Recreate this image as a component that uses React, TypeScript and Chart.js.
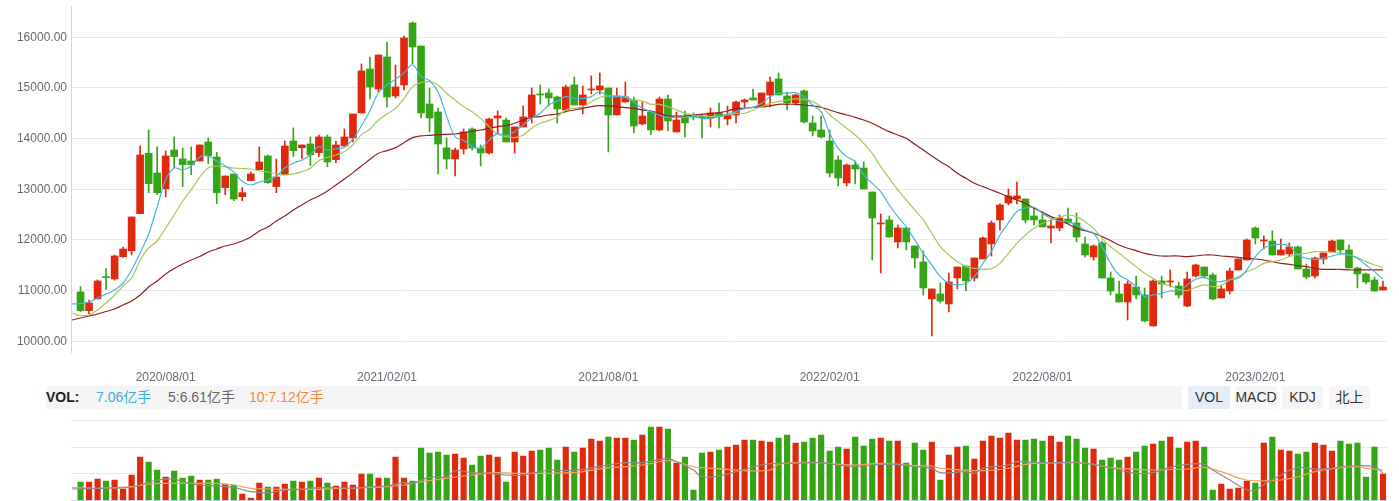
import React, { useEffect, useRef } from "react";
import { Chart, registerables } from "chart.js";

Chart.register(...registerables);

// ---- weekly candles (index 0 .. 153) ----
const OPEN = [
  10974, 10605, 10842, 11270, 11230, 11671, 11789, 12520, 13711, 13322, 13013, 13776, 13599, 13559, 13559, 13934, 13638, 13033, 13303, 12855, 13171, 13388, 13658, 13053, 13290,
  13954, 13822, 13895, 13724, 14033, 13586, 13855, 14013, 14507, 15375, 14980, 15612, 14842, 15059, 16283, 15829, 14684, 14526, 13816, 13599, 13796, 14191, 13816, 13717, 14408, 14368,
  13934, 14230, 14428, 14875, 14901, 14822, 14566, 15059, 14664, 14961, 14961, 15000, 14467, 14724, 14763, 14289, 14526, 14171, 14783, 14132, 14428, 14467, 14447, 14408, 14507, 14388,
  14467, 14724, 14803, 14625, 14862, 15178, 14842, 14704, 14941, 14309, 14171, 13954, 13579, 13125, 13480, 13421, 12947, 12316, 12395, 11961, 12237, 11882, 11566, 10836, 10934, 10737,
  11250, 11487, 11250, 11625, 11921, 12395, 12730, 12809, 12809, 12474, 12395, 12237, 12237, 12414, 12336, 11921, 11664, 11941, 11250, 10934, 10776, 11072, 10914, 10303, 11191, 11171,
  11092, 10697, 11289, 11467, 11309, 10855, 10993, 11408, 11605, 12237, 11980, 11980, 11704, 11724, 11862, 11428, 11289, 11625, 11763, 12000, 11803, 11447, 11329, 11211, 11013,
];
const HIGH = [
  11079, 10816, 11211, 11434, 11704, 11862, 12454, 13855, 14171, 13836, 13757, 14033, 13816, 13836, 13875, 14013, 13730, 13263, 13303, 13033, 13342, 13836, 13678, 13599, 13954,
  14211, 13875, 14033, 14072, 14072, 13954, 14191, 14487, 15474, 15612, 15651, 15908, 15454, 16026, 16303, 15829, 15000, 14605, 14013, 13816, 14191, 14211, 13875, 14408, 14546, 14408,
  14230, 14645, 15000, 15059, 14980, 14842, 15059, 15217, 15040, 15237, 15296, 15000, 15000, 15118, 14822, 14724, 14546, 14822, 14862, 14526, 14546, 14507, 14487, 14605, 14704, 14645,
  14743, 14783, 14980, 14901, 15217, 15296, 14921, 14882, 14961, 14447, 14447, 14171, 13658, 13500, 13559, 13540, 12947, 12513, 12474, 12296, 12237, 11882, 11783, 11033, 11151, 11349,
  11467, 11487, 11645, 12059, 12375, 12711, 13007, 13145, 12809, 12632, 12553, 12395, 12493, 12632, 12533, 12059, 11901, 11980, 11368, 11191, 11191, 11289, 11053, 11211, 11289, 11408,
  11171, 11368, 11526, 11467, 11349, 11112, 11447, 11625, 12020, 12257, 12079, 12178, 12020, 11941, 11882, 11526, 11664, 11743, 12000, 12000, 11901, 11467, 11349, 11270, 11191,
];
const LOW = [
  10586, 10539, 10829, 11026, 11210, 11658, 11704, 12520, 12934, 12895, 12849, 13428, 13053, 13290, 13559, 13507, 12717, 12895, 12776, 12776, 13171, 13388, 13118, 12934, 13290,
  13645, 13605, 13467, 13645, 13447, 13526, 13855, 13934, 14507, 14783, 14921, 14625, 14803, 14961, 15474, 14408, 14132, 13303, 13401, 13263, 13697, 13776, 13461, 13697, 14112, 13934,
  13717, 14230, 14309, 14684, 14645, 14309, 14566, 14664, 14487, 14882, 14882, 13737, 14467, 14724, 14112, 14270, 14072, 14151, 14151, 14132, 14033, 14368, 14013, 14230, 14211, 14270,
  14309, 14586, 14763, 14625, 14625, 14862, 14566, 14664, 14309, 14053, 14013, 13243, 13066, 13066, 13105, 13007, 11605, 11349, 12059, 11842, 11803, 11447, 10914, 10105, 10757, 10579,
  11033, 10993, 11191, 11625, 11684, 12197, 12691, 12711, 12336, 12296, 12257, 11941, 12178, 12336, 11961, 11664, 11605, 11250, 10914, 10776, 10421, 10836, 10382, 10303, 10855, 11072,
  10855, 10678, 11270, 11250, 10816, 10855, 10934, 11408, 11605, 11921, 11822, 11704, 11704, 11684, 11428, 11230, 11250, 11526, 11763, 11724, 11447, 11053, 11132, 10993, 11013,
];
const CLOSE = [
  10605, 10757, 11191, 11257, 11684, 11822, 12454, 13678, 13112, 12934, 13658, 13645, 13487, 13487, 13875, 13665, 12934, 13263, 12809, 12934, 13303, 13540, 13132, 13243, 13855,
  13763, 13875, 13678, 14033, 13540, 13875, 14033, 14487, 15336, 15020, 15651, 14822, 15020, 15987, 15809, 14507, 14408, 13895, 13599, 13776, 14132, 13816, 13717, 14388, 14447, 13934,
  14230, 14428, 14862, 14862, 14803, 14586, 15020, 14664, 14862, 14980, 15040, 14467, 14842, 14822, 14250, 14447, 14171, 14783, 14349, 14368, 14309, 14428, 14408, 14507, 14447, 14467,
  14724, 14763, 14763, 14901, 15118, 14862, 14704, 14862, 14329, 14151, 14033, 13322, 13224, 13480, 13401, 13007, 12434, 12336, 12059, 12237, 11961, 11645, 11053, 11033, 10796, 11171,
  11467, 11191, 11645, 12039, 12336, 12691, 12868, 12868, 12395, 12395, 12257, 12276, 12434, 12336, 12059, 11704, 11882, 11250, 10993, 10776, 11132, 10914, 10401, 11191, 11132, 11191,
  10914, 11230, 11507, 11289, 10836, 11033, 11388, 11625, 12000, 12039, 12000, 11704, 11803, 11862, 11428, 11270, 11645, 11743, 11980, 11803, 11447, 11329, 11171, 10993, 11072,
];

// ---- moving averages, first value belongs to week -1 ----
const MA_FIRST_WEEK = -1;
const MA5 = [
  10736,
  10746, 10776, 10855, 10934, 11013, 11151, 11407, 11743, 12118, 12651, 13190, 13421, 13381, 13460, 13638, 13658, 13559, 13460, 13340, 13160, 13085, 13145, 13184, 13260, 13421, 13520,
  13574, 13683, 13841, 13778, 13800, 13832, 13994, 14254, 14550, 14905, 15063, 15170, 15300, 15458, 15229, 15146, 14921, 14444, 14037, 13962, 13844, 13808, 13966, 14100, 14060,
  14138, 14270, 14401, 14500, 14664, 14740, 14829, 14796, 14796, 14829, 14928, 14829, 14829, 14829, 14720, 14599, 14533, 14467, 14421, 14421, 14421, 14434, 14401, 14401, 14434, 14487,
  14533, 14599, 14618, 14697, 14829, 14895, 14895, 14908, 14829, 14664, 14533, 14105, 13809, 13645, 13546, 13283, 13118, 12954, 12691, 12461, 12263, 12000, 11737, 11507, 11276, 11145,
  11112, 11145, 11276, 11539, 11770, 12099, 12342, 12559, 12632, 12645, 12526, 12428, 12375, 12362, 12296, 12197, 12132, 11868, 11539, 11309, 11211, 11079, 10882, 10914, 10947, 10993,
  10993, 11112, 11224, 11263, 11191, 11178, 11224, 11243, 11408, 11671, 11836, 11901, 11914, 11882, 11704, 11638, 11618, 11638, 11684, 11724, 11704, 11638, 11507, 11375, 11224,
];
const MA10 = [
  10553,
  10509, 10519, 10618, 10756, 10914, 11092, 11250, 11605, 11842, 11980, 12237, 12493, 12770, 12987, 13240, 13421, 13460, 13441, 13421, 13411, 13401, 13362, 13342, 13303, 13283, 13303,
  13349, 13415, 13566, 13632, 13678, 13743, 13880, 14080, 14190, 14368, 14487, 14599, 14796, 15026, 15105, 15125, 15059, 14895, 14763, 14632, 14533, 14401, 14237, 14086, 14039,
  14020, 14072, 14204, 14303, 14355, 14434, 14566, 14599, 14632, 14730, 14816, 14842, 14842, 14816, 14763, 14743, 14678, 14678, 14632, 14566, 14500, 14467, 14447, 14434, 14447, 14467,
  14500, 14500, 14566, 14632, 14697, 14730, 14763, 14783, 14776, 14730, 14632, 14467, 14336, 14204, 14072, 13908, 13711, 13447, 13217, 12987, 12789, 12592, 12395, 12132, 11868, 11704,
  11572, 11474, 11441, 11421, 11434, 11539, 11737, 11934, 12099, 12230, 12329, 12395, 12447, 12493, 12461, 12362, 12230, 12033, 11868, 11737, 11605, 11474, 11342, 11243, 11145, 11092,
  11026, 11000, 11066, 11112, 11079, 11099, 11211, 11276, 11375, 11441, 11539, 11572, 11605, 11671, 11717, 11737, 11770, 11770, 11763, 11737, 11704, 11658, 11572, 11507, 11461,
];
const MA_LONG = [
  10420,
  10460, 10499, 10539, 10588, 10638, 10717, 10796, 10914, 11072, 11190, 11329, 11437, 11526, 11605, 11674, 11763, 11822, 11881, 11921, 11980, 12059, 12177, 12256, 12375, 12473, 12592,
  12691, 12789, 12868, 12967, 13086, 13204, 13329, 13461, 13592, 13711, 13763, 13822, 13921, 14020, 14053, 14066, 14079, 14086, 14092, 14118, 14145, 14171, 14204, 14237, 14257,
  14303, 14368, 14421, 14434, 14467, 14487, 14533, 14566, 14599, 14632, 14651, 14645, 14632, 14612, 14599, 14566, 14546, 14500, 14447, 14447, 14447, 14467, 14480, 14500, 14513, 14546,
  14592, 14599, 14618, 14632, 14645, 14678, 14678, 14678, 14664, 14645, 14618, 14566, 14513, 14467, 14421, 14368, 14303, 14217, 14138, 14072, 14007, 13888, 13776, 13658, 13546, 13447,
  13316, 13217, 13118, 13053, 12987, 12921, 12855, 12789, 12724, 12625, 12546, 12461, 12395, 12316, 12230, 12184, 12132, 12066, 11987, 11901, 11836, 11790, 11737, 11704, 11684, 11684,
  11684, 11671, 11684, 11704, 11704, 11684, 11671, 11658, 11638, 11625, 11605, 11572, 11539, 11520, 11493, 11474, 11441, 11421, 11421, 11421, 11408, 11408, 11408, 11408, 11408,
];

// ---- volume (亿手) ----
const VOLUME = [
  4.92, 4.92, 5.73, 5.19, 5.46, 3.04, 6.8, 11.64, 10.3, 8.14, 6.26, 7.88, 5.99, 6.53, 5.46, 5.46, 5.73, 4.38, 4.11, 1.69, 0.62, 4.65, 3.58, 3.58, 4.38,
  5.19, 4.92, 5.19, 5.99, 4.65, 3.84, 4.92, 4.11, 7.07, 7.07, 5.99, 5.99, 11.64,
  5.99, 5.19, 14.06, 12.71, 12.98, 12.18, 12.45, 11.37, 9.49, 11.91, 12.18, 11.64, 4.92,
  12.98, 11.91, 13.25, 13.52, 14.06, 10.83, 14.33, 12.98, 14.06, 16.48, 15.94, 17.02, 16.75, 16.75, 16.21, 17.55, 19.7, 19.7, 19.17, 10.03, 11.64, 2.77, 12.71, 12.98, 13.52, 14.33,
  14.86, 16.21, 16.21, 15.94, 15.67, 16.75, 17.55, 15.4, 15.67, 16.75, 17.55, 13.25, 14.33, 13.79, 17.02, 14.6, 16.48, 16.75, 15.94, 15.94, 10.03, 15.4, 13.52, 15.67, 5.46, 12.18,
  14.33, 14.6, 11.1, 15.94, 17.28, 16.75, 18.09, 16.21, 16.21, 16.48, 15.94, 17.28, 15.67, 17.28, 16.48, 14.06, 13.79, 10.83, 11.37, 10.83, 11.64, 12.98, 14.6, 15.13, 15.94, 17.02,
  14.06, 15.67, 15.94, 14.33, 2.77, 4.38, 3.04, 3.31, 5.19, 4.65, 15.4, 17.02, 13.52, 13.25, 12.45, 12.98, 15.4, 14.86, 13.25, 15.94, 15.13, 15.4, 6.26, 14.33, 7.07,
];
const VOL_MA5_WEEK = [-1, 2, 6, 7, 9, 11, 12, 14, 16, 18, 20, 22, 24, 26, 28, 30, 32, 34, 36, 38, 39, 41, 43, 44, 46, 48, 50, 52, 55, 57, 59, 62, 64, 66, 69, 70, 72, 73, 75, 76, 80, 82, 84, 87, 89, 91, 94, 96, 98, 100, 101, 104, 105, 106, 109, 110, 113, 115, 117, 120, 122, 124, 126, 128, 130, 132, 133, 135, 137, 138, 139, 141, 143, 145, 147, 149, 152, 153];
const VOL_MA5 = [3.04, 3.23, 3.49, 4.11, 5.46, 5.73, 5.0, 4.11, 3.84, 3.49, 2.31, 2.04, 2.77, 2.96, 3.39, 3.39, 3.23, 3.66, 3.84, 4.73, 4.57, 6.18, 6.34, 7.96, 7.42, 7.26, 6.8, 6.8, 8.14, 7.96, 8.33, 9.49, 10.11, 10.11, 11.18, 10.38, 8.14, 6.34, 6.53, 7.07, 9.49, 9.95, 9.95, 10.11, 9.49, 9.03, 9.68, 9.68, 9.03, 8.6, 7.42, 7.69, 7.26, 8.6, 9.49, 10.38, 10.11, 10.11, 10.11, 9.22, 8.14, 7.26, 7.42, 8.87, 9.68, 9.68, 8.14, 5.46, 2.85, 2.77, 4.2, 6.8, 8.76, 8.41, 8.6, 9.22, 9.03, 7.26];
const VOL_MA10_WEEK = [-1, 2, 6, 8, 10, 12, 14, 16, 18, 20, 22, 24, 26, 28, 30, 32, 34, 36, 38, 39, 41, 43, 46, 49, 51, 54, 58, 59, 62, 64, 66, 69, 70, 72, 73, 76, 78, 81, 82, 84, 87, 89, 91, 94, 96, 98, 100, 101, 106, 109, 111, 113, 117, 119, 121, 124, 126, 130, 132, 134, 137, 141, 143, 145, 148, 150, 151, 153];
const VOL_MA10 = [3.49, 3.23, 3.66, 4.38, 4.57, 4.57, 4.57, 4.57, 4.11, 3.23, 3.04, 2.96, 2.96, 2.96, 3.23, 3.23, 3.49, 3.66, 4.11, 4.57, 5.27, 5.91, 6.8, 7.42, 7.26, 7.26, 7.42, 7.69, 8.76, 9.03, 9.49, 10.64, 10.38, 9.03, 8.76, 8.33, 7.96, 8.14, 9.68, 10.11, 10.11, 9.68, 9.49, 9.95, 9.68, 9.3, 9.22, 8.6, 7.96, 8.6, 9.68, 9.95, 10.21, 9.68, 8.76, 8.33, 8.14, 8.41, 8.87, 7.69, 5.46, 5.46, 6.34, 7.69, 8.76, 9.03, 8.6, 8.14];

// ---- axis labels ----
const X_TICK_WEEKS = [10, 36, 62, 88, 113, 138];
const X_TICK_LABELS = ["2020/08/01", "2021/02/01", "2021/08/01", "2022/02/01", "2022/08/01", "2023/02/01"];
const PRICE_TICKS = [10000, 11000, 12000, 13000, 14000, 15000, 16000];
const PRICE_MIN = 9789;
const PRICE_MAX = 16618;
const VOL_MAX = 21.4;
const VOL_TICKS = [0, 7.133, 14.267, 21.4];

const HEADER_LAST = "7.06亿手";
const HEADER_MA5 = "5:6.61亿手";
const HEADER_MA10 = "10:7.12亿手";
const TABS = ["VOL", "MACD", "KDJ", "北上"];

const FONT = '"Liberation Sans", Arial, "Noto Sans CJK SC", sans-serif';
const UP = "#e0290c";
const DOWN = "#35a417";
const GRID = "#e7e9ef";
const AXIS = "#c8d7ec";
const LABEL = "#666a73";
const X_MIN = -1.12;
const X_MAX = 153.47;

const candleColors = OPEN.map((o, i) => (CLOSE[i] >= o ? UP : DOWN));

function maData(values: number[]) {
  return values.map((v, i) => ({ x: i + MA_FIRST_WEEK, y: v }));
}

export default function App() {
  const priceRef = useRef<HTMLCanvasElement | null>(null);
  const volRef = useRef<HTMLCanvasElement | null>(null);

  useEffect(() => {
    const lineDs = (label: string, data: any[], color: string, order: number, tension = 0.35) => ({
      type: "line" as const,
      label,
      data,
      borderColor: color,
      borderWidth: 1.2,
      pointRadius: 0,
      tension,
      fill: false,
      order,
    });

    const price = new Chart(priceRef.current as HTMLCanvasElement, {
      type: "bar",
      data: {
        datasets: [
          lineDs("MA5", maData(MA5), "#46b5dd", 0) as any,
          lineDs("MA10", maData(MA10), "#a7c957", 0) as any,
          lineDs("MA30", maData(MA_LONG), "#951e1e", 0) as any,
          {
            type: "bar",
            label: "body",
            data: OPEN.map((o, i) => ({ x: i, y: [o, CLOSE[i]] })),
            backgroundColor: candleColors,
            barThickness: 7,
            minBarLength: 1,
            grouped: false,
            order: 1,
          } as any,
          {
            type: "bar",
            label: "wick",
            data: HIGH.map((h, i) => ({ x: i, y: [LOW[i], h] })),
            backgroundColor: candleColors,
            barThickness: 1,
            grouped: false,
            order: 2,
          } as any,
        ],
      },
      options: {
        responsive: false,
        animation: false,
        devicePixelRatio: 1,
        events: [],
        layout: { padding: { left: 0, right: 12, top: 6, bottom: 0 } },
        plugins: { legend: { display: false }, tooltip: { enabled: false } },
        scales: {
          x: {
            type: "linear",
            min: X_MIN,
            max: X_MAX,
            offset: false,
            grid: { display: false, drawTicks: false, offset: false },
            border: { display: false },
            ticks: {
              autoSkip: false,
              maxRotation: 0,
              padding: 18,
              color: LABEL,
              font: { family: FONT, size: 12 },
              callback: (v: any) => {
                const k = X_TICK_WEEKS.indexOf(Number(v));
                return k >= 0 ? X_TICK_LABELS[k] : "";
              },
            },
            afterBuildTicks: (s: any) => {
              s.ticks = X_TICK_WEEKS.map((v) => ({ value: v }));
            },
            afterFit: (s: any) => {
              s.height = 34;
              s.paddingLeft = 0;
              s.paddingRight = 0;
            },
          },
          y: {
            type: "linear",
            min: PRICE_MIN,
            max: PRICE_MAX,
            grid: { color: GRID, drawTicks: false },
            border: { display: true, color: AXIS, width: 1 },
            ticks: {
              padding: 4,
              color: LABEL,
              font: { family: FONT, size: 12 },
              callback: (v: any) => Number(v).toFixed(2),
            },
            afterBuildTicks: (s: any) => {
              s.ticks = PRICE_TICKS.map((v) => ({ value: v }));
            },
            afterFit: (s: any) => {
              s.width = 71;
              s.paddingTop = 0;
              s.paddingBottom = 0;
            },
          },
        },
      },
    });

    const vol = new Chart(volRef.current as HTMLCanvasElement, {
      type: "bar",
      data: {
        datasets: [
          lineDs("VMA5", VOL_MA5_WEEK.map((w, i) => ({ x: w, y: VOL_MA5[i] })), "#8c8c8c", 0, 0.4) as any,
          lineDs("VMA10", VOL_MA10_WEEK.map((w, i) => ({ x: w, y: VOL_MA10[i] })), "#f2a25f", 0, 0.4) as any,
          {
            type: "bar",
            label: "vol",
            data: VOLUME.map((v, i) => ({ x: i, y: v })),
            backgroundColor: candleColors,
            barThickness: 5.5,
            grouped: false,
            order: 1,
          } as any,
        ],
      },
      options: {
        responsive: false,
        animation: false,
        devicePixelRatio: 1,
        events: [],
        layout: { padding: { left: 0, right: 12, top: 10.7, bottom: 0.7 } },
        plugins: { legend: { display: false }, tooltip: { enabled: false } },
        scales: {
          x: { type: "linear", display: false, min: X_MIN, max: X_MAX, offset: false },
          y: {
            type: "linear",
            min: 0,
            max: VOL_MAX,
            grid: {
              drawTicks: false,
              color: (c: any) => (c.tick && c.tick.value === 0 ? AXIS : GRID),
            },
            border: { display: false },
            ticks: { display: false },
            afterBuildTicks: (s: any) => {
              s.ticks = VOL_TICKS.map((v) => ({ value: v }));
            },
            afterFit: (s: any) => {
              s.width = 71;
              s.paddingTop = 0;
              s.paddingBottom = 0;
            },
          },
        },
      },
    });

    return () => {
      price.destroy();
      vol.destroy();
    };
  }, []);

  const tabLeft = [1188, 1235, 1282, 1329];
  const tabWidth = [42, 42, 41, 41];

  return (
    <div
      style={{
        position: "absolute",
        left: 0,
        top: 0,
        width: 1399,
        height: 501,
        fontFamily: FONT,
        background: "#fff",
        overflow: "hidden",
      }}
    >
      <canvas ref={priceRef} width={1399} height={386} style={{ position: "absolute", left: 0, top: 0, width: 1399, height: 386 }} />
      <div style={{ position: "absolute", left: 46, top: 386, width: 1136, height: 23, background: "#f5f5f5" }} />
      <span style={{ position: "absolute", left: 46, top: 386, lineHeight: "23px", fontSize: 14, fontWeight: "bold", color: "#222" }}>VOL:</span>
      <span style={{ position: "absolute", left: 96, top: 386, lineHeight: "23px", fontSize: 14, color: "#3eaedb" }}>{HEADER_LAST}</span>
      <span style={{ position: "absolute", left: 168, top: 386, lineHeight: "23px", fontSize: 14, color: "#666" }}>{HEADER_MA5}</span>
      <span style={{ position: "absolute", left: 249, top: 386, lineHeight: "23px", fontSize: 14, color: "#f08a3a" }}>{HEADER_MA10}</span>
      {TABS.map((t, i) => (
        <div
          key={t}
          style={{
            position: "absolute",
            left: tabLeft[i],
            top: 386,
            width: tabWidth[i],
            height: 23,
            lineHeight: "23px",
            textAlign: "center",
            fontSize: 14,
            color: "#333",
            background: i === 0 ? "#e4edf8" : "#f5f5f5",
          }}
        >
          {t}
        </div>
      ))}
      <canvas ref={volRef} width={1399} height={91} style={{ position: "absolute", left: 0, top: 410, width: 1399, height: 91 }} />
    </div>
  );
}
